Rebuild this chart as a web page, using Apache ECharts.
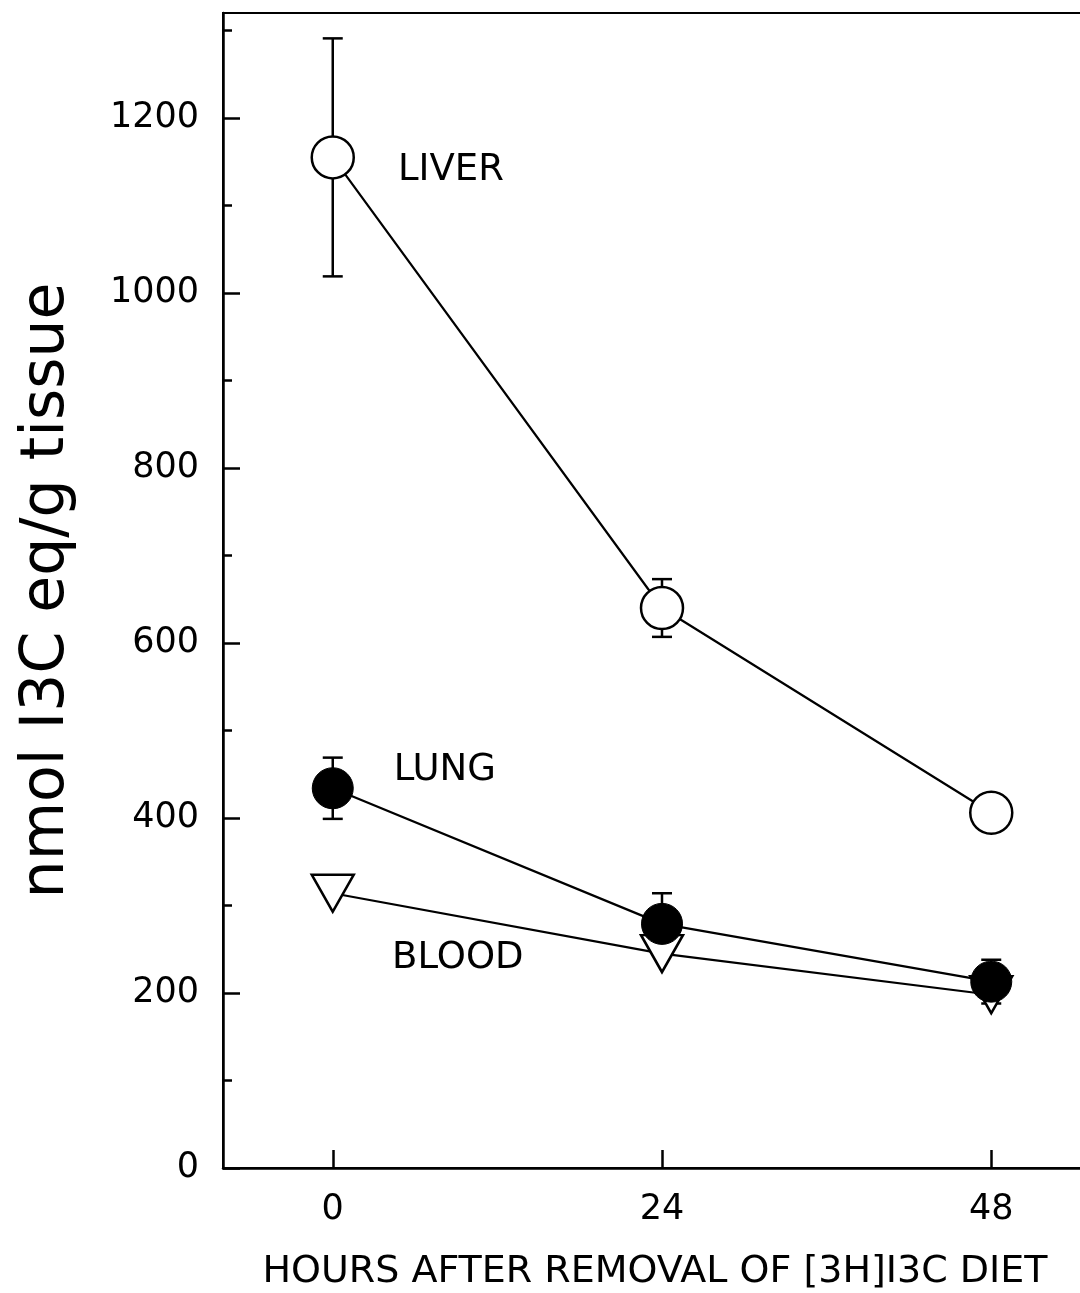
<!DOCTYPE html>
<html>
<head>
<meta charset="utf-8">
<script src="https://cdn.jsdelivr.net/npm/echarts@6/dist/echarts.min.js"></script>
<style>
  html, body { margin: 0; padding: 0; background: #fff; }
  #chart { width: 1080px; height: 1293px; }
</style>
</head>
<body>
<div id="chart"></div>
<script>
// hours after diet removal
var hours = [0, 24, 48];
// tissue levels, nmol I3C eq/g tissue (mean and error)
var liverMean = [1155, 640, 406];
var liverErr = [136, 33, 8];
var lungMean = [434, 279, 213];
var lungErr = [35, 35, 25];
var bloodMean = [314, 245, 198];
// axis ticks
var xTicks = [0, 24, 48];
var yMajor = [0, 200, 400, 600, 800, 1000, 1200];
var yMinor = [100, 300, 500, 700, 900, 1100, 1300];

var FONT = 'DejaVu Sans';

function pairs(xs, ys) {
    return xs.map(function (x, i) { return [x, ys[i]]; });
}

function errRows(xs, mean, err) {
    return xs.map(function (x, i) { return [x, mean[i] - err[i], mean[i] + err[i]]; });
}

var errData = errRows(hours, liverMean, liverErr).concat(errRows(hours, lungMean, lungErr));

// first point of each series carries the tissue name
function labelled(data, text, dx, dy) {
    data[0] = {
        value: data[0],
        label: {
            show: true, position: 'right', distance: 0, offset: [dx, dy],
            formatter: text, color: '#000', fontSize: 37, fontFamily: FONT
        }
    };
    return data;
}

var chart = echarts.init(document.getElementById('chart'));
chart.setOption({
    animation: false,
    backgroundColor: '#fff',
    grid: {
        left: 223, top: 13, right: -21, bottom: 125,
        show: true, borderColor: '#000', borderWidth: 2,
        outerBoundsMode: 'none'
    },
    xAxis: {
        type: 'value', min: -8, max: 56,
        axisLine: { onZero: false, lineStyle: { color: '#000', width: 2.5 } },
        axisTick: { inside: true, length: 18, customValues: xTicks, lineStyle: { color: '#000', width: 2.5 } },
        axisLabel: { customValues: xTicks, margin: 24, color: '#000', fontSize: 35, fontFamily: FONT },
        splitLine: { show: false },
        name: 'HOURS AFTER REMOVAL OF [3H]I3C DIET',
        nameLocation: 'middle',
        nameGap: 85,
        nameTextStyle: { color: '#000', fontSize: 38, fontFamily: FONT, padding: [0, 14, 0, 0] }
    },
    yAxis: [{
        type: 'value', min: 0, max: 1320, position: 'left',
        axisLine: { show: true, onZero: false, lineStyle: { color: '#000', width: 2.5 } },
        axisTick: { inside: true, length: 17, customValues: yMajor, lineStyle: { color: '#000', width: 2.5 } },
        axisLabel: {
            customValues: yMajor, margin: 24, color: '#000', fontSize: 35, fontFamily: FONT,
            formatter: function (v) { return String(v); }
        },
        splitLine: { show: false },
        name: 'nmol I3C eq/g tissue',
        nameLocation: 'middle',
        nameRotate: 90,
        nameGap: 146,
        nameTextStyle: { color: '#000', fontSize: 60, fontFamily: FONT }
    }, {
        type: 'value', min: 0, max: 1320, position: 'left', offset: 0,
        axisLine: { show: false, onZero: false },
        axisTick: { inside: true, length: 9, customValues: yMinor, lineStyle: { color: '#000', width: 2.5 } },
        axisLabel: { show: false },
        splitLine: { show: false }
    }],
    series: [
        {
            name: 'BLOOD', type: 'line',
            data: labelled(pairs(hours, bloodMean), 'BLOOD', 37, 65),
            symbol: 'triangle', symbolRotate: 180, symbolSize: [42, 37],
            lineStyle: { color: '#000', width: 2.2 },
            itemStyle: { color: '#fff', borderColor: '#000', borderWidth: 2.5 },
            emphasis: { disabled: true }
        },
        {
            name: 'error', type: 'custom',
            data: errData,
            renderItem: function (params, api) {
                var x = api.value(0);
                var lo = api.coord([x, api.value(1)]);
                var hi = api.coord([x, api.value(2)]);
                var w = 10;
                var style = { stroke: '#000', lineWidth: 2.5 };
                return {
                    type: 'group',
                    children: [
                        { type: 'line', shape: { x1: hi[0], y1: hi[1], x2: lo[0], y2: lo[1] }, style: style },
                        { type: 'line', shape: { x1: hi[0] - w, y1: hi[1], x2: hi[0] + w, y2: hi[1] }, style: style },
                        { type: 'line', shape: { x1: lo[0] - w, y1: lo[1], x2: lo[0] + w, y2: lo[1] }, style: style }
                    ]
                };
            }
        },
        {
            name: 'LUNG', type: 'line',
            data: labelled(pairs(hours, lungMean), 'LUNG', 40, -18),
            symbol: 'circle', symbolSize: 41,
            lineStyle: { color: '#000', width: 2.2 },
            itemStyle: { color: '#000', borderColor: '#000', borderWidth: 1 },
            emphasis: { disabled: true }
        },
        {
            name: 'LIVER', type: 'line',
            data: labelled(pairs(hours, liverMean), 'LIVER', 43, 13),
            symbol: 'circle', symbolSize: 42,
            lineStyle: { color: '#000', width: 2.2 },
            itemStyle: { color: '#fff', borderColor: '#000', borderWidth: 2.5 },
            emphasis: { disabled: true }
        }
    ]
});
</script>
</body>
</html>
